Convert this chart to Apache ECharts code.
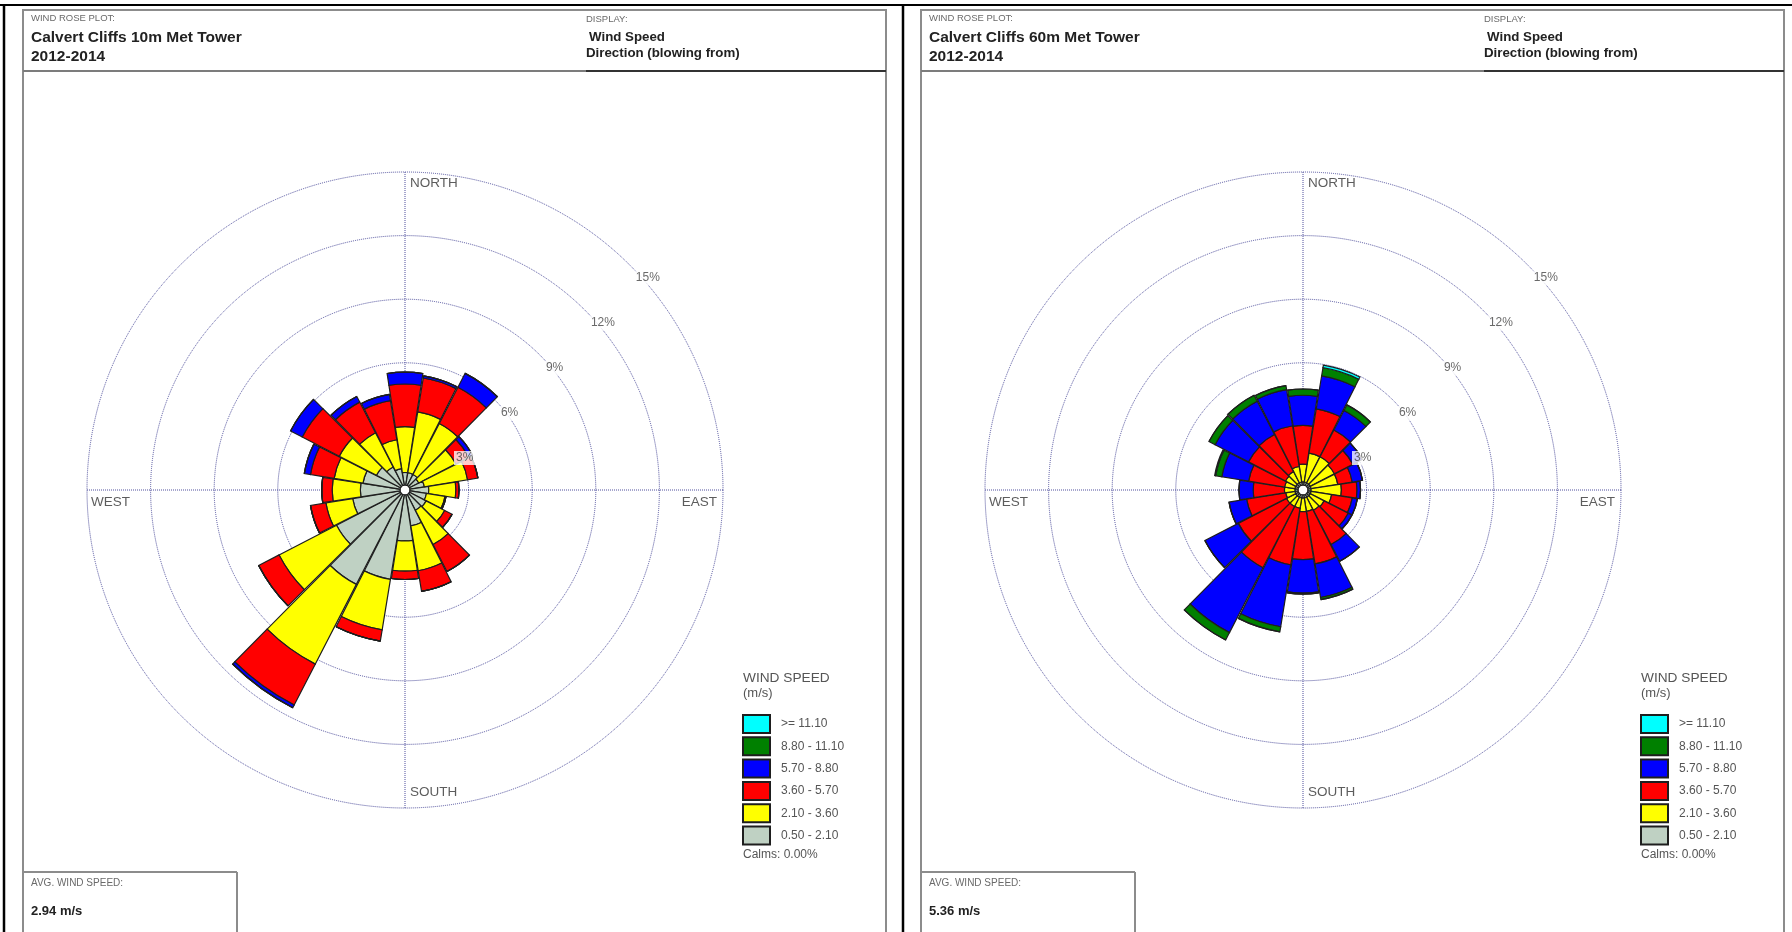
<!DOCTYPE html>
<html>
<head>
<meta charset="utf-8">
<script src="https://cdn.jsdelivr.net/npm/echarts@6/dist/echarts.min.js"></script>
<style>
  html, body { margin: 0; padding: 0; background: #ffffff; }
  #chart { width: 1792px; height: 932px; }
</style>
</head>
<body>
<div id="chart"></div>
<script>
// Direction sectors: 20 sectors, 18 degrees apart, clockwise from north
const directions = ['0', '18', '36', '54', '72', '90', '108', '126', '144', '162',
                    '180', '198', '216', '234', '252', '270', '288', '306', '324', '342'];

// Wind speed classes (m/s), innermost first
const speedClasses = ['0.50 - 2.10', '2.10 - 3.60', '3.60 - 5.70', '5.70 - 8.80', '8.80 - 11.10', '>= 11.10'];
const classColors = ['#bfd1c3', '#ffff00', '#ff0000', '#0000ff', '#008000', '#00ffff'];

// Ring ticks (percent of hours)
const ringTicks = [3, 6, 9, 12, 15];
const ringLabels = ['3%', '6%', '9%', '12%', '15%'];

const compassNames = ['NORTH', 'EAST', 'SOUTH', 'WEST'];
const compassAngles = [0, 90, 180, 270];

// 10 m tower: frequency (%) per direction for each speed class
const tenGrey   = [0.6, 0.6, 0.6, 0.5, 0.7, 0.9, 0.8, 0.9, 0.85, 1.5, 2.2, 4.1, 4.85, 3.45, 2.3, 1.9, 1.8, 1.3, 1.0, 0.8];
const tenYellow = [2.2, 2.95, 2.75, 2.0, 2.1, 1.3, 0.9, 1.0, 1.85, 2.18, 1.45, 2.45, 4.3, 3.1, 1.3, 1.35, 1.4, 2.0, 1.85, 1.4];
const tenRed    = [2.04, 1.65, 1.95, 0.7, 0.5, 0.15, 0.05, 0.4, 1.45, 1.0, 0.4, 0.55, 2.2, 1.1, 0.75, 0.5, 1.15, 2.0, 1.65, 1.9];
const tenBlue   = [0.57, 0.1, 0.75, 0.2, 0, 0, 0, 0, 0, 0, 0, 0, 0.15, 0, 0, 0, 0.3, 0.63, 0.3, 0.3];
const tenGreen  = [0, 0, 0, 0, 0, 0, 0, 0, 0, 0, 0, 0, 0, 0, 0, 0, 0, 0, 0, 0];
const tenCyan   = [0, 0, 0, 0, 0, 0, 0, 0, 0, 0, 0, 0, 0, 0, 0, 0, 0, 0, 0, 0];

// 60 m tower: frequency (%) per direction for each speed class
const sixtyGrey   = [0.15, 0.15, 0.15, 0.15, 0.15, 0.15, 0.15, 0.15, 0.15, 0.15, 0.15, 0.15, 0.15, 0.15, 0.15, 0.15, 0.15, 0.15, 0.15, 0.15];
const sixtyYellow = [0.85, 1.4, 1.4, 1.3, 1.3, 1.45, 1.0, 0.75, 0.7, 0.65, 0.65, 0.5, 0.5, 0.5, 0.45, 0.5, 0.5, 0.55, 0.6, 0.75];
const sixtyRed    = [1.86, 2.15, 1.45, 1.0, 0.7, 0.75, 1.0, 1.3, 1.85, 2.55, 2.3, 2.75, 3.3, 2.6, 1.9, 1.5, 1.75, 2.0, 2.0, 1.98];
const sixtyBlue   = [1.44, 1.6, 1.05, 0.5, 0.5, 0.17, 0.25, 0.2, 0.9, 1.63, 1.6, 3.0, 3.5, 1.8, 0.85, 0.68, 1.3, 1.8, 1.8, 1.75];
const sixtyGreen  = [0.3, 0.4, 0.3, 0, 0, 0, 0, 0, 0, 0.1, 0.05, 0.25, 0.4, 0, 0, 0, 0.3, 0.33, 0.32, 0.2];
const sixtyCyan   = [0, 0.12, 0, 0, 0, 0, 0, 0, 0, 0, 0, 0, 0, 0, 0, 0, 0.05, 0, 0, 0];

const panels = [
  { title: 'Calvert Cliffs 10m Met Tower', years: '2012-2014', avg: '2.94 m/s', calms: 'Calms: 0.00%',
    layers: [tenGrey, tenYellow, tenRed, tenBlue, tenGreen, tenCyan] },
  { title: 'Calvert Cliffs 60m Met Tower', years: '2012-2014', avg: '5.36 m/s', calms: 'Calms: 0.00%',
    layers: [sixtyGrey, sixtyYellow, sixtyRed, sixtyBlue, sixtyGreen, sixtyCyan] }
];

const FONT = "'Liberation Sans', Arial, sans-serif";
const PANEL_SHIFT = 898;   // horizontal distance between the two panels
const CY = 490;            // rose centre (y)
const R_OUT = 318;         // radius of the 15% ring
const GRID = '#4e4e9c';

const polar = [], angleAxis = [], radiusAxis = [], series = [], legend = [], graphic = [];

const hidden = { axisLine: { show: false }, axisTick: { show: false }, axisLabel: { show: false }, splitLine: { show: false } };

panels.forEach((p, k) => {
  const ox = k * PANEL_SHIFT;
  const cx = 405 + ox;
  const base = k * 3;

  // bars / rings+labels / crosshair
  polar.push({ center: [cx, CY], radius: [5, R_OUT] },
             { center: [cx, CY], radius: [0, R_OUT] },
             { center: [cx, CY], radius: [6, R_OUT] });

  angleAxis.push(
    Object.assign({ polarIndex: base, type: 'category', data: directions, startAngle: 99, clockwise: true, boundaryGap: true }, hidden),
    Object.assign({ polarIndex: base + 1, type: 'value', min: 0, max: 360, startAngle: 90, clockwise: true }, hidden),
    { polarIndex: base + 2, type: 'value', min: 0, max: 360, interval: 90, startAngle: 90, clockwise: true,
      axisLine: { show: false }, axisTick: { show: false }, axisLabel: { show: false },
      splitLine: { show: true, lineStyle: { color: GRID, type: 'dotted', width: 1 } } }
  );
  radiusAxis.push(
    Object.assign({ polarIndex: base, type: 'value', min: 0, max: 15 }, hidden),
    { polarIndex: base + 1, type: 'value', min: 0, max: 15, interval: 3,
      axisLine: { show: false }, axisTick: { show: false }, axisLabel: { show: false },
      splitLine: { show: true, lineStyle: { color: GRID, type: 'dotted', width: 1 } } },
    Object.assign({ polarIndex: base + 2, type: 'value', min: 0, max: 15 }, hidden)
  );

  // stacked speed classes
  p.layers.forEach((vals, i) => {
    series.push({
      type: 'bar', coordinateSystem: 'polar', polarIndex: base,
      name: speedClasses[i], stack: 'rose' + k, data: vals,
      barCategoryGap: '3%', silent: true, z: 2,
      itemStyle: { color: classColors[i], borderColor: '#1e1e1e', borderWidth: 1.2 }
    });
  });

  // percent ring labels
  series.push({
    type: 'scatter', coordinateSystem: 'polar', polarIndex: base + 1, symbolSize: 0, silent: true, z: 6,
    data: ringTicks.map((t, i) => ({ value: [t, 45], label: { formatter: ringLabels[i] } })),
    label: { show: true, position: [4, 6], align: 'left', verticalAlign: 'top',
             color: '#444', fontSize: 12, fontFamily: FONT, backgroundColor: '#ffffff', padding: [1, 2] }
  });

  // compass labels just inside the outer ring
  const compassPos = { NORTH: [5, 4], EAST: [-6, 5], SOUTH: [5, -23], WEST: [4, 5] };
  series.push({
    type: 'scatter', coordinateSystem: 'polar', polarIndex: base + 1, symbolSize: 0, silent: true, z: 6,
    data: compassNames.map((n, i) => ({
      value: [15, compassAngles[i]],
      label: { formatter: n, position: compassPos[n], align: n === 'EAST' ? 'right' : 'left' }
    })),
    label: { show: true, verticalAlign: 'top', color: '#333', fontSize: 13.5, fontFamily: FONT }
  });

  legend.push({
    left: 742 + ox, top: 714, orient: 'vertical', selectedMode: false, padding: 0,
    data: speedClasses.slice().reverse(),
    icon: 'rect', itemWidth: 27, itemHeight: 18, itemGap: 2.3,
    textStyle: { color: '#555', fontSize: 12, fontFamily: FONT, padding: [0, 0, 0, 6], lineHeight: 14 }
  });

  // panel frame and text blocks
  const txt = (x, y, text, size, weight, color) => ({
    type: 'text', x: x + ox, y: y, silent: true,
    style: { text: text, font: (weight || 'normal') + ' ' + size + 'px ' + FONT, fill: color || '#333', textVerticalAlign: 'middle' }
  });
  const line = (x1, y1, x2, y2, color, w) => ({
    type: 'line', silent: true, shape: { x1: x1 + ox, y1: y1, x2: x2 + ox, y2: y2 },
    style: { stroke: color, lineWidth: w }
  });

  graphic.push(
    { type: 'rect', silent: true, shape: { x: 23 + ox, y: 10, width: 863, height: 940 },
      style: { fill: 'none', stroke: '#8c8c8c', lineWidth: 2 } },
    line(23, 71, 886, 71, '#7c7c7c', 2),
    line(586, 71, 886, 71, '#333333', 2),
    txt(31, 18, 'WIND ROSE PLOT:', 9.5, 'normal', '#6a6a6a'),
    txt(31, 38, p.title, 15.5, 'bold', '#222'),
    txt(31, 57, p.years, 15.5, 'bold', '#222'),
    txt(586, 19, 'DISPLAY:', 9.5, 'normal', '#6a6a6a'),
    txt(589, 37, 'Wind Speed', 13.3, 'bold', '#222'),
    txt(586, 53, 'Direction (blowing from)', 13.3, 'bold', '#222'),
    txt(743, 678, 'WIND SPEED', 13.7, 'normal', '#555'),
    txt(743, 693, '(m/s)', 13, 'normal', '#555'),
    txt(743, 855, p.calms, 12, 'normal', '#555'),
    line(23, 872, 237, 872, '#8c8c8c', 2),
    line(237, 872, 237, 940, '#8c8c8c', 2),
    txt(31, 883, 'AVG. WIND SPEED:', 10, 'normal', '#6a6a6a'),
    txt(31, 911, p.avg, 13, 'bold', '#222')
  );
});

// outer black table rules
graphic.push(
  { type: 'line', silent: true, shape: { x1: 0, y1: 5, x2: 1792, y2: 5 }, style: { stroke: '#000', lineWidth: 2 } },
  { type: 'line', silent: true, shape: { x1: 4, y1: 5, x2: 4, y2: 932 }, style: { stroke: '#000', lineWidth: 2.5 } },
  { type: 'line', silent: true, shape: { x1: 903, y1: 5, x2: 903, y2: 932 }, style: { stroke: '#000', lineWidth: 2.5 } }
);

const chart = echarts.init(document.getElementById('chart'), null, { renderer: 'canvas' });
chart.setOption({
  backgroundColor: '#ffffff',
  animation: false,
  polar: polar,
  angleAxis: angleAxis,
  radiusAxis: radiusAxis,
  legend: legend,
  series: series,
  graphic: graphic
});
</script>
</body>
</html>
